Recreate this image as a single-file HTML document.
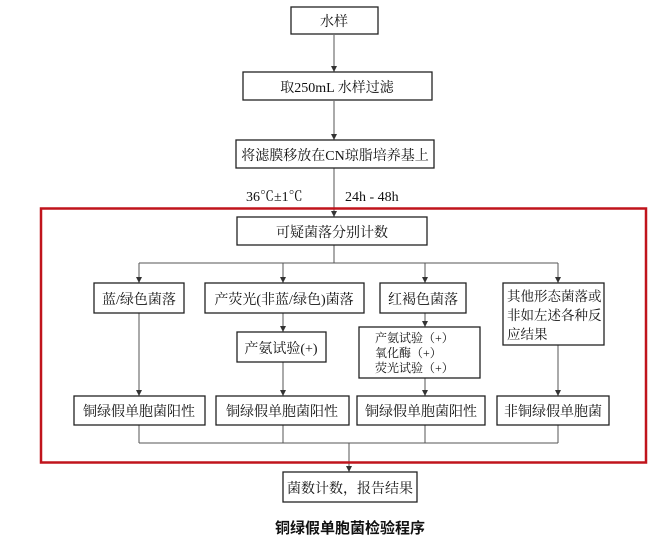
<!DOCTYPE html>
<html><head><meta charset="utf-8"><style>
body{margin:0;background:#fff;}
svg text{font-family:"Liberation Serif","Noto Serif CJK SC","Noto Sans CJK SC",serif;fill:#111;}
</style></head><body>
<svg width="663" height="547" viewBox="0 0 663 547" xmlns="http://www.w3.org/2000/svg">
<defs>
<marker id="b" markerWidth="6" markerHeight="8" refX="6" refY="3" orient="auto" markerUnits="userSpaceOnUse"><path d="M0,0 L6,3 L0,6 z" fill="#333"/></marker></defs>
<g stroke="#555" stroke-width="1" fill="none">
<line x1="334" y1="35" x2="334" y2="72" marker-end="url(#b)"/>
<line x1="334" y1="101" x2="334" y2="140" marker-end="url(#b)"/>
<line x1="334" y1="168" x2="334" y2="217" marker-end="url(#b)"/>
<line x1="334" y1="245" x2="334" y2="263"/>
<line x1="139" y1="263" x2="558" y2="263"/>
<line x1="139" y1="263" x2="139" y2="283" marker-end="url(#b)"/>
<line x1="283" y1="263" x2="283" y2="283" marker-end="url(#b)"/>
<line x1="425" y1="263" x2="425" y2="283" marker-end="url(#b)"/>
<line x1="558" y1="263" x2="558" y2="283" marker-end="url(#b)"/>
<line x1="139" y1="313" x2="139" y2="396" marker-end="url(#b)"/>
<line x1="283" y1="313" x2="283" y2="332" marker-end="url(#b)"/>
<line x1="283" y1="362" x2="283" y2="396" marker-end="url(#b)"/>
<line x1="425" y1="313" x2="425" y2="327" marker-end="url(#b)"/>
<line x1="425" y1="378" x2="425" y2="396" marker-end="url(#b)"/>
<line x1="558" y1="345" x2="558" y2="396" marker-end="url(#b)"/>
<line x1="139" y1="425" x2="139" y2="443"/>
<line x1="283" y1="425" x2="283" y2="443"/>
<line x1="425" y1="425" x2="425" y2="443"/>
<line x1="558" y1="425" x2="558" y2="443"/>
<line x1="139" y1="443" x2="558" y2="443"/>
<line x1="349" y1="443" x2="349" y2="472" marker-end="url(#b)"/>
</g>
<rect x="41" y="208.5" width="605" height="254" fill="none" stroke="#c0141c" stroke-width="2.5"/>
<g fill="#fff" stroke="#222" stroke-width="1.3">
<rect x="291" y="7" width="87" height="27"/>
<rect x="243" y="72" width="189" height="28"/>
<rect x="236" y="140" width="198" height="28"/>
<rect x="237" y="217" width="190" height="28"/>
<rect x="94" y="283" width="90" height="30"/>
<rect x="205" y="283" width="159" height="30"/>
<rect x="380" y="283" width="86" height="30"/>
<rect x="503" y="283" width="101" height="62"/>
<rect x="237" y="332" width="89" height="30"/>
<rect x="359" y="327" width="121" height="51"/>
<rect x="74" y="396" width="131" height="29"/>
<rect x="216" y="396" width="133" height="29"/>
<rect x="357" y="396" width="128" height="29"/>
<rect x="497" y="396" width="112" height="29"/>
<rect x="283" y="472" width="134" height="30"/>
</g>
<g font-size="14" text-anchor="middle">
<text x="334" y="26">水样</text>
<text x="337" y="92">取250mL 水样过滤</text>
<text x="335" y="160">将滤膜移放在CN琼脂培养基上</text>
<text x="332" y="237">可疑菌落分别计数</text>
<text x="139" y="304">蓝/绿色菌落</text>
<text x="284" y="304">产荧光(非蓝/绿色)菌落</text>
<text x="423" y="304">红褐色菌落</text>
<text x="281" y="353">产氨试验(+)</text>
<text x="139" y="416">铜绿假单胞菌阳性</text>
<text x="282" y="416">铜绿假单胞菌阳性</text>
<text x="421" y="416">铜绿假单胞菌阳性</text>
<text x="553" y="416">非铜绿假单胞菌</text>
<text x="350" y="493">菌数计数，报告结果</text>
</g>
<g font-size="13.5">
<text x="507" y="301">其他形态菌落或</text>
<text x="507" y="320">非如左述各种反</text>
<text x="507" y="339">应结果</text>
</g>
<g font-size="14">
<text x="246" y="201">36℃±1℃</text>
<text x="345" y="201">24h - 48h</text>
</g>
<g font-size="12">
<text x="375" y="342">产氨试验（+）</text>
<text x="375" y="357">氧化酶（+）</text>
<text x="375" y="372">荧光试验（+）</text>
</g>
<text x="350" y="533" font-size="15" font-weight="bold" text-anchor="middle" style="font-family:'Noto Sans CJK SC',sans-serif">铜绿假单胞菌检验程序</text>
</svg>
</body></html>
